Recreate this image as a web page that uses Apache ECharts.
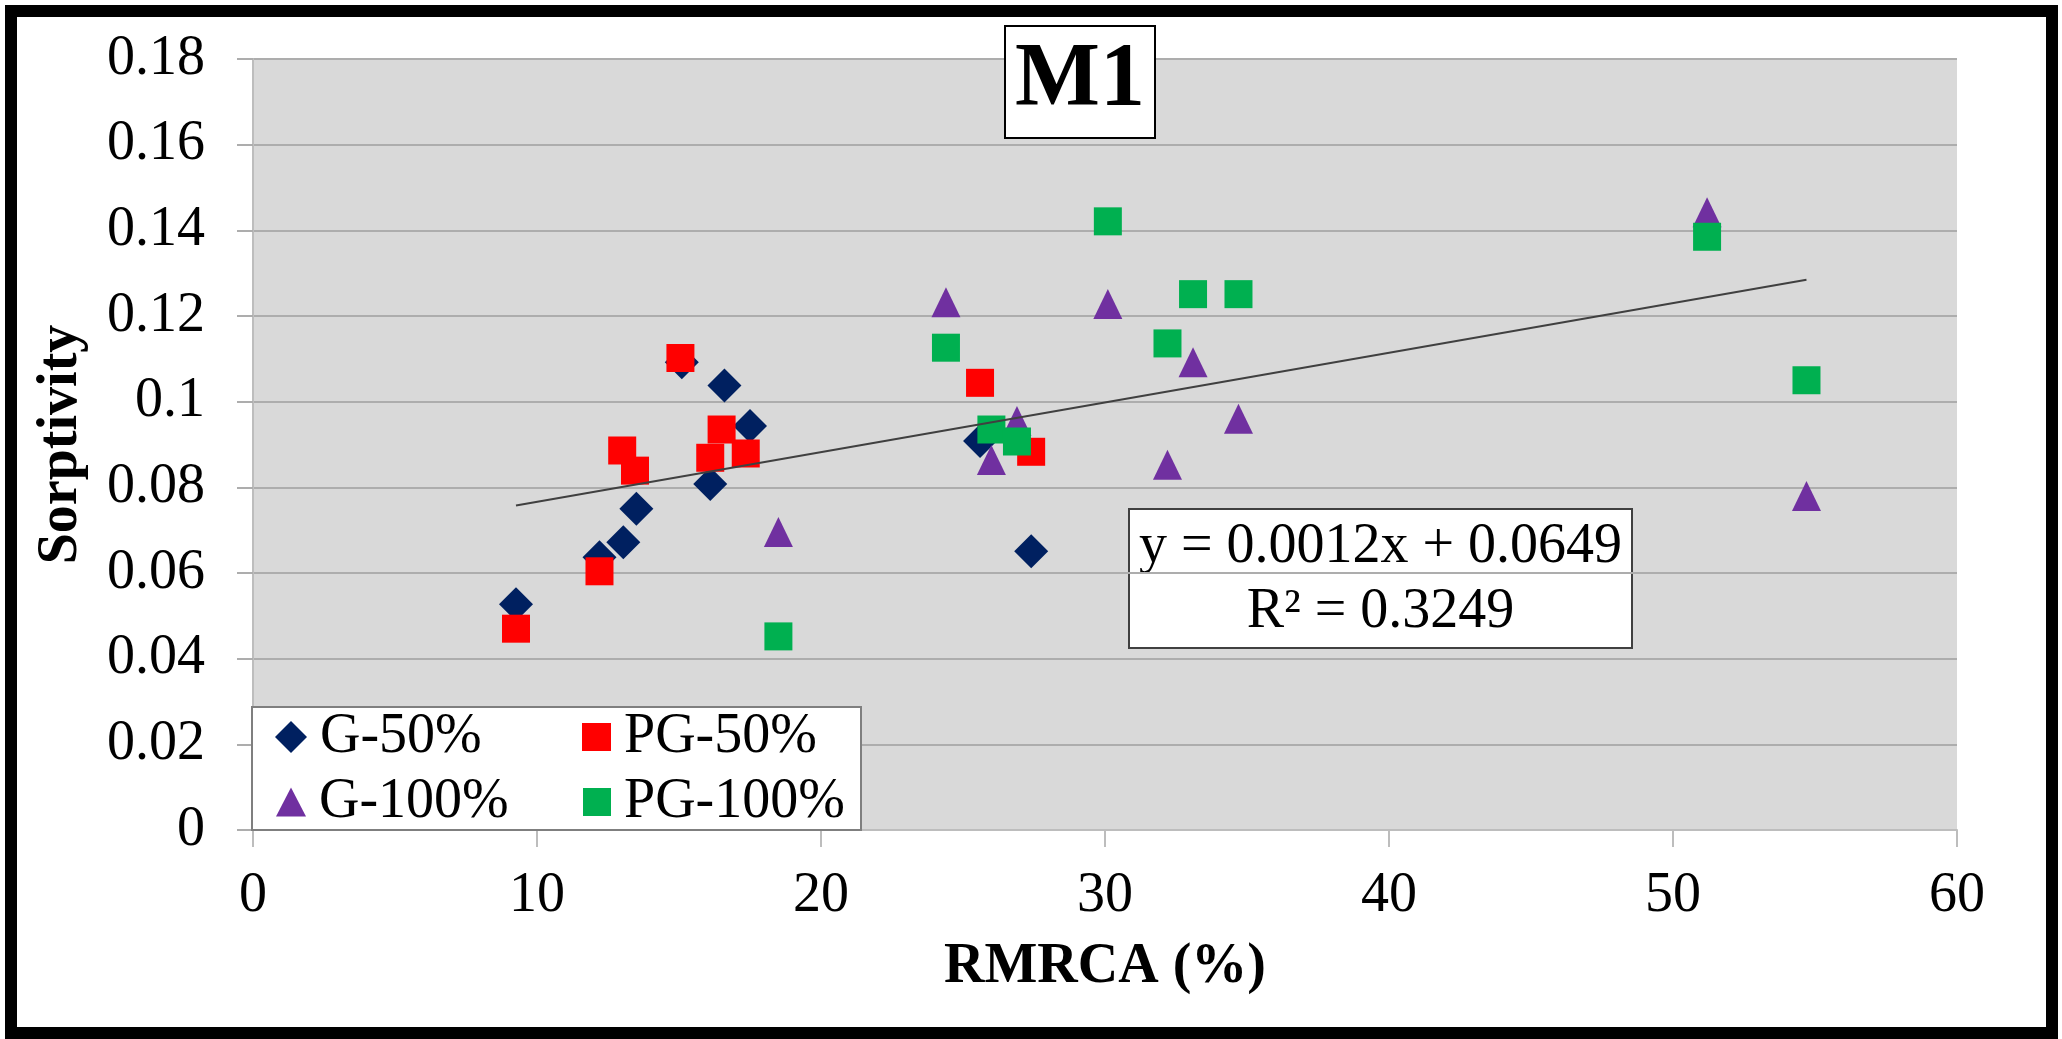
<!DOCTYPE html>
<html>
<head>
<meta charset="utf-8">
<script src="https://cdn.jsdelivr.net/npm/echarts@6/dist/echarts.min.js"></script>
<style>
html,body{margin:0;padding:0;background:#fff;}
#chart{width:2062px;height:1039px;}
</style>
</head>
<body>
<div id="chart"></div>
<script>
// ---- data ----
var seriesNames = ['G-50%', 'PG-50%', 'G-100%', 'PG-100%'];
var xG50   = [9.26, 12.2, 13.04, 13.5, 15.1, 16.1, 16.6, 17.5, 25.6, 27.4];
var yG50   = [0.0527, 0.0637, 0.0672, 0.0750, 0.1092, 0.0808, 0.1038, 0.0943, 0.0908, 0.0651];
var xPG50  = [9.26, 12.2, 13.0, 13.45, 15.05, 16.1, 16.5, 17.35, 25.6, 27.4];
var yPG50  = [0.0470, 0.0604, 0.0886, 0.0839, 0.1102, 0.0869, 0.0935, 0.0879, 0.1044, 0.0883];
var xG100  = [18.5, 24.4, 26.0, 26.9, 30.1, 32.2, 33.1, 34.7, 51.2, 54.7];
var yG100  = [0.0696, 0.1232, 0.0864, 0.0955, 0.1228, 0.0853, 0.1092, 0.0960, 0.1442, 0.0780];
var xPG100 = [18.5, 24.4, 26.0, 26.9, 30.1, 32.2, 33.1, 34.7, 51.2, 54.7];
var yPG100 = [0.0452, 0.1126, 0.0935, 0.0907, 0.1421, 0.1136, 0.1251, 0.1251, 0.1385, 0.1050];
var xTickLabels = ['0', '10', '20', '30', '40', '50', '60'];
var yTickLabels = ['0', '0.02', '0.04', '0.06', '0.08', '0.1', '0.12', '0.14', '0.16', '0.18'];
var chartTitle = 'M1';
var xName = 'RMRCA (%)';
var yName = 'Sorptivity';
var equationText = 'y = 0.0012x + 0.0649\nR\u00B2 = 0.3249';

// ---- helpers ----
function pairs(xs, ys) { return xs.map(function (x, i) { return [x, ys[i]]; }); }
var allX = [].concat(xG50, xPG50, xG100, xPG100);
var allY = [].concat(yG50, yPG50, yG100, yPG100);
// least-squares linear trendline over all points
var n = allX.length, sx = 0, sy = 0, sxx = 0, sxy = 0;
for (var i = 0; i < n; i++) { sx += allX[i]; sy += allY[i]; sxx += allX[i] * allX[i]; sxy += allX[i] * allY[i]; }
var slope = (n * sxy - sx * sy) / (n * sxx - sx * sx);
var intercept = (sy - slope * sx) / n;
var xMin = Math.min.apply(null, allX), xMax = Math.max.apply(null, allX);
var trend = [[xMin, intercept + slope * xMin], [xMax, intercept + slope * xMax]];

var FONT = '"Liberation Serif", "Times New Roman", serif';
var colors = ['#002060', '#FF0000', '#7030A0', '#00B050'];
var symbols = ['diamond', 'rect', 'triangle', 'rect'];
var sizes = [[34, 34], [28, 28], [29, 30], [28, 28]];
var dataSets = [pairs(xG50, yG50), pairs(xPG50, yPG50), pairs(xG100, yG100), pairs(xPG100, yPG100)];

var series = seriesNames.map(function (name, k) {
  return {
    name: name, type: 'scatter', data: dataSets[k],
    symbol: symbols[k], symbolSize: sizes[k],
    itemStyle: { color: colors[k], opacity: 1 },
    z: 2 + k
  };
});
series.push({
  name: 'trend', type: 'line', data: trend, symbol: 'none',
  lineStyle: { color: '#404040', width: 2 }, z: 10, silent: true
});

var legendPos = [[275, 709], [582, 709], [276, 774], [583, 774]];
var legendIcon = [[32, 32], [29, 28], [30, 29], [28, 28]];
var legends = seriesNames.map(function (name, k) {
  return {
    data: [name], left: legendPos[k][0], top: legendPos[k][1], padding: 0,
    itemWidth: legendIcon[k][0], itemHeight: legendIcon[k][1],
    selectedMode: false, z: 120,
    textStyle: { fontFamily: FONT, fontSize: 56, lineHeight: 56, color: '#000', padding: [0, 0, 0, 8] }
  };
});

var chart = echarts.init(document.getElementById('chart'));
chart.setOption({
  animation: false,
  backgroundColor: '#ffffff',
  title: {
    text: chartTitle, left: 1005, top: 26, padding: [11, 10],
    backgroundColor: '#ffffff', borderColor: '#000000', borderWidth: 2,
    textStyle: { fontFamily: FONT, fontSize: 90, fontWeight: 'bold', lineHeight: 90, color: '#000' }
  },
  legend: legends,
  grid: {
    left: 253, right: 105, top: 59, bottom: 209,
    show: true, backgroundColor: '#D9D9D9', borderWidth: 0
  },
  xAxis: {
    type: 'value', min: 0, max: 60, interval: 10,
    name: xName, nameLocation: 'middle', nameGap: 110,
    nameTextStyle: { fontFamily: FONT, fontSize: 56, fontWeight: 'bold', lineHeight: 56, color: '#000' },
    axisLine: { show: true, lineStyle: { color: '#BDBDBD', width: 2 } },
    axisTick: { show: true, length: 17, lineStyle: { color: '#BDBDBD', width: 2 } },
    splitLine: { show: false },
    axisLabel: {
      margin: 38, fontFamily: FONT, fontSize: 56, lineHeight: 56, color: '#000',
      formatter: function (v, i) { return xTickLabels[i]; }
    }
  },
  yAxis: {
    type: 'value', min: 0, max: 0.18, interval: 0.02,
    name: yName, nameLocation: 'middle', nameGap: 163, nameRotate: 90,
    nameTextStyle: { fontFamily: FONT, fontSize: 56, fontWeight: 'bold', lineHeight: 56, color: '#000' },
    axisLine: { show: true, lineStyle: { color: '#BDBDBD', width: 2 } },
    axisTick: { show: true, length: 16, lineStyle: { color: '#ADADAD', width: 2 } },
    splitLine: { show: true, lineStyle: { color: '#ADADAD', width: 2 } },
    axisLabel: {
      margin: 48, fontFamily: FONT, fontSize: 56, lineHeight: 56, color: '#000',
      formatter: function (v, i) { return yTickLabels[i]; }
    }
  },
  graphic: [
    { type: 'rect', z: 100, shape: { x: 252, y: 707, width: 609, height: 123 },
      style: { fill: '#ffffff', stroke: '#7F7F7F', lineWidth: 2 } },
    { type: 'group', left: 1128, top: 508, z: 100, children: [
      { type: 'rect', shape: { x: 0, y: 0, width: 503, height: 139 },
        style: { fill: '#ffffff', stroke: '#404040', lineWidth: 2 } },
      { type: 'text', x: 251.5, y: 71,
        style: { text: equationText, font: '56px ' + FONT, fill: '#000', align: 'center', verticalAlign: 'middle', lineHeight: 65 } }
    ] },
    { type: 'rect', z: 200, shape: { x: 11, y: 11, width: 2041, height: 1022 },
      style: { fill: 'none', stroke: '#000000', lineWidth: 12 } }
  ],
  series: series
});
</script>
</body>
</html>
